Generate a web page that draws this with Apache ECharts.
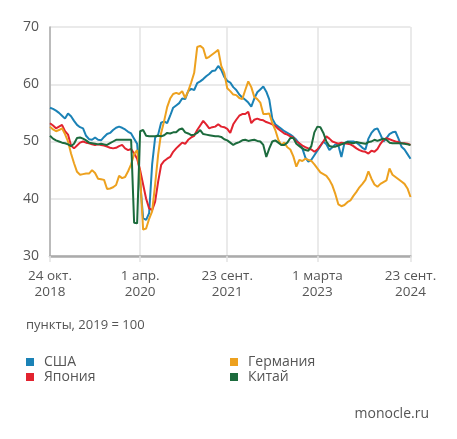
<!DOCTYPE html>
<html>
<head>
<meta charset="utf-8">
<script src="https://cdn.jsdelivr.net/npm/echarts@6/dist/echarts.min.js"></script>
<style>
html,body{margin:0;padding:0;background:#fff;}
#chart{width:457px;height:439px;}
</style>
</head>
<body>
<div id="chart"></div>
<script>
// Weekly-ish index values (pts, 2019 = 100)
const usa = [55.9,55.7,55.4,55.0,54.5,54.0,54.9,54.4,53.6,52.9,52.5,52.3,51.0,50.4,50.3,50.7,50.3,50.2,50.8,51.3,
  51.5,52.0,52.4,52.6,52.4,52.1,51.7,51.4,50.5,49.6,43.0,36.6,36.3,37.5,46.0,50.7,51.2,53.3,53.5,53.2,
  54.5,55.9,56.3,56.7,57.5,57.4,58.8,59.2,59.0,60.2,60.5,60.9,61.4,61.8,62.3,62.4,63.2,62.5,61.3,60.6,
  60.3,59.5,59.0,58.2,57.7,57.3,56.8,56.1,57.5,58.6,59.1,59.6,58.7,57.3,54.0,53.0,52.6,52.2,51.8,51.5,
  51.2,50.8,50.3,49.6,48.8,47.2,46.5,46.8,47.6,48.4,49.2,50.0,49.5,48.5,49.0,49.5,49.3,47.3,49.7,50.0,
  50.0,50.0,49.8,49.4,48.9,48.6,50.5,51.5,52.1,52.3,51.2,50.0,50.6,51.3,51.6,51.7,50.5,49.1,48.6,47.8,47.0];
const japan = [53.2,52.8,52.3,52.6,52.9,51.8,51.2,49.3,48.8,49.3,49.8,50.0,49.8,49.7,49.5,49.4,49.5,49.4,49.3,49.1,
  48.9,48.8,48.9,49.2,49.4,48.8,48.5,48.7,47.9,47.0,45.0,42.5,40.0,38.3,38.0,39.5,43.0,45.9,46.6,47.0,
  47.3,48.2,48.8,49.3,49.8,49.6,50.3,50.7,51.0,52.0,52.8,53.6,53.0,52.3,52.5,52.6,53.0,52.6,52.5,52.2,
  51.5,53.0,53.8,54.5,54.8,54.8,55.2,53.2,53.8,54.0,53.8,53.7,53.4,53.2,53.0,52.7,52.2,51.8,51.4,51.2,
  50.9,50.7,50.0,49.7,49.3,49.0,48.8,48.6,48.2,48.6,49.3,50.0,50.9,50.5,50.0,49.8,49.6,49.8,49.7,49.6,
  49.5,49.2,48.8,48.5,48.3,48.2,47.9,48.4,48.2,48.7,49.6,50.3,50.6,50.4,50.2,50.0,49.9,49.7,49.7,49.6,49.4];
const germany = [52.6,52.1,51.8,52.0,52.3,51.3,50.0,47.9,46.2,44.7,44.2,44.3,44.4,44.4,45.0,44.5,43.5,43.4,43.3,41.7,
  41.8,42.0,42.4,44.0,43.6,43.8,44.8,46.0,47.8,48.5,44.0,34.6,34.8,36.5,37.8,42.5,47.7,51.5,53.6,56.0,
  57.5,58.3,58.5,58.3,58.8,57.6,58.8,60.3,62.0,66.5,66.7,66.3,64.5,64.8,65.2,65.6,66.0,63.2,62.0,59.3,
  58.8,58.2,58.1,57.6,57.4,59.0,60.5,59.5,57.8,57.4,56.8,54.8,54.8,54.9,53.2,52.0,50.3,49.4,49.8,49.0,
  48.6,47.4,45.6,46.8,46.6,47.0,46.8,46.6,46.0,45.3,44.6,44.3,44.0,43.3,42.3,40.8,39.0,38.7,38.9,39.4,
  39.7,40.5,41.2,42.0,42.6,43.3,44.8,43.5,42.5,42.1,42.6,42.9,43.2,45.3,44.2,43.8,43.4,43.0,42.6,41.8,40.3];
const china = [51.0,50.5,50.2,50.0,49.8,49.7,49.5,49.2,49.6,50.6,50.7,50.5,50.2,49.8,49.7,49.6,49.5,49.6,49.5,49.4,
  49.7,50.0,50.3,50.3,50.3,50.3,50.3,50.3,35.8,35.7,51.8,52.0,51.0,50.9,50.9,50.9,51.0,50.9,51.1,51.5,
  51.4,51.6,51.6,52.1,52.3,51.6,51.4,51.1,51.2,51.5,52.0,51.3,51.2,51.1,51.0,50.9,50.9,50.8,50.4,50.2,
  49.8,49.4,49.7,49.9,50.2,50.3,50.1,50.2,50.3,50.1,50.0,49.4,47.3,48.8,50.0,50.2,49.8,49.4,49.4,49.8,
  50.6,50.6,49.6,49.2,48.8,48.5,48.4,49.2,51.6,52.6,52.5,51.5,50.0,49.2,49.1,49.1,49.3,49.5,49.7,49.9,
  49.8,49.7,49.9,49.8,49.7,49.6,49.9,50.0,50.3,50.1,50.3,50.5,50.3,49.8,49.7,49.7,49.7,49.7,49.6,49.5,49.4];

const tickLabels = ['24 окт.\n2018', '1 апр.\n2020', '23 сент.\n2021', '1 марта\n2023', '23 сент.\n2024'];
const tickIndex = [0, 30, 59, 89, 120];
const yTicks = [30, 40, 50, 60, 70];
const seriesNames = ['США', 'Япония', 'Германия', 'Китай'];
const seriesColors = ['#1b82b6', '#e2232f', '#eda11f', '#1c6b3d'];
const unitNote = 'пункты, 2019 = 100';
const source = 'monocle.ru';

const categories = usa.map((_, i) => {
  const k = tickIndex.indexOf(i);
  return k >= 0 ? tickLabels[k] : '';
});
const isTick = (i) => tickIndex.indexOf(i) >= 0;
const values = [usa, japan, germany, china];

const FONT = 'Open Sans';
const chart = echarts.init(document.getElementById('chart'), null, {renderer: 'canvas'});
chart.setOption({
  animation: false,
  textStyle: {fontFamily: FONT},
  title: [
    {text: unitNote, left: 21, top: 314, textStyle: {fontSize: 13, fontWeight: 'normal', color: '#555', fontFamily: FONT}},
    {text: source, right: 23, top: 402, textStyle: {fontSize: 14, fontWeight: 'normal', color: '#555', fontFamily: FONT}}
  ],
  legend: [
    {data: ['США', 'Япония'], orient: 'vertical', left: 21, top: 350, itemWidth: 8, itemHeight: 8, itemGap: 1,
     icon: 'rect', textStyle: {fontSize: 14, color: '#555', fontFamily: FONT, padding: [0, 0, 0, 5]}},
    {data: ['Германия', 'Китай'], orient: 'vertical', left: 225, top: 350, itemWidth: 8, itemHeight: 8, itemGap: 1,
     icon: 'rect', textStyle: {fontSize: 14, color: '#555', fontFamily: FONT, padding: [0, 0, 0, 5]}}
  ],
  grid: {left: 50, right: 46.5, top: 27, bottom: 183, containLabel: false},
  xAxis: {
    type: 'category',
    data: categories,
    boundaryGap: false,
    axisLine: {lineStyle: {color: '#ababab', width: 2.5}},
    axisTick: {show: true, interval: (i) => isTick(i), length: 6, lineStyle: {color: '#e3e3e3', width: 1.5}},
    axisLabel: {interval: (i) => isTick(i), color: '#555', fontSize: 13.5, lineHeight: 16, margin: 12, fontFamily: FONT},
    splitLine: {show: true, interval: (i) => isTick(i), lineStyle: {color: '#e3e3e3', width: 1.5}}
  },
  yAxis: {
    type: 'value', min: yTicks[0], max: yTicks[yTicks.length - 1], interval: 10,
    axisLine: {show: true, lineStyle: {color: '#ababab', width: 1.5}},
    axisTick: {show: false},
    axisLabel: {color: '#555', fontSize: 14, margin: 11, fontFamily: FONT},
    splitLine: {lineStyle: {color: '#e3e3e3', width: 1.5}}
  },
  series: seriesNames.map((n, k) => ({
    name: n, type: 'line', data: values[k], showSymbol: false, symbol: 'none',
    lineStyle: {width: 2, color: seriesColors[k]}, itemStyle: {color: seriesColors[k]},
    z: k === 3 ? 3 : 2
  }))
});
</script>
</body>
</html>
